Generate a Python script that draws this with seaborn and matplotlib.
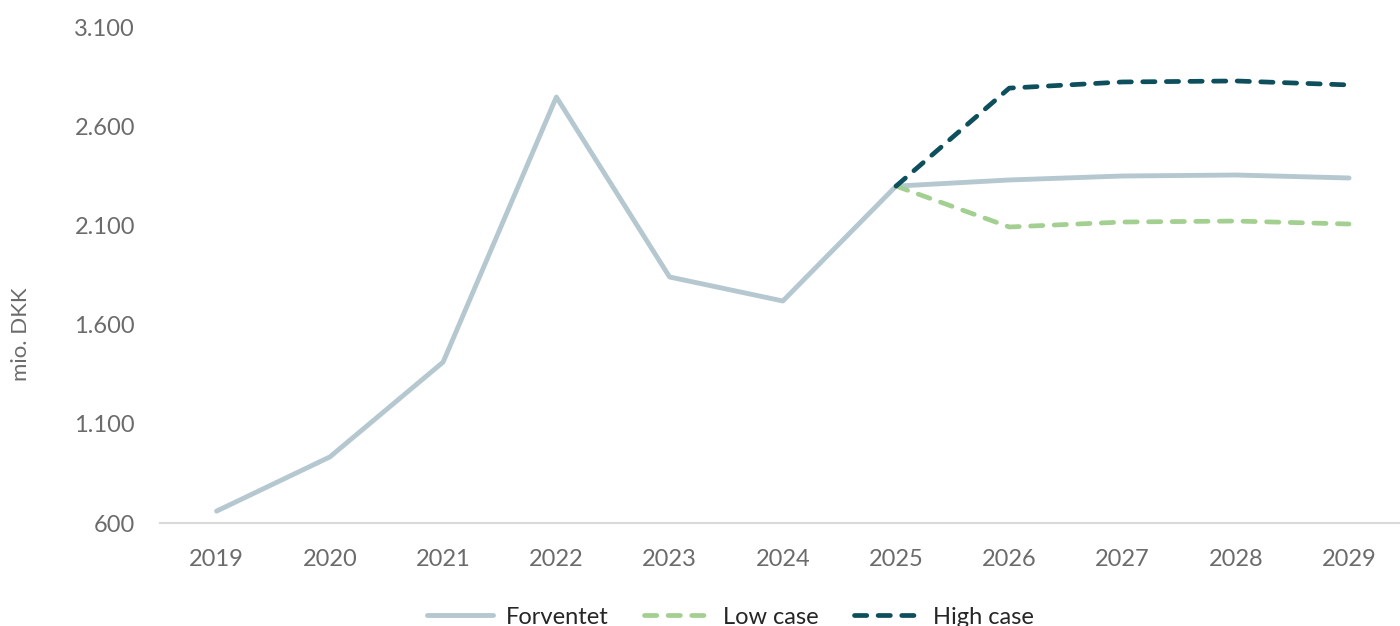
import pandas as pd
import seaborn as sns
import matplotlib.pyplot as plt

# Values (mio. DKK)
years = ["2019", "2020", "2021", "2022", "2023", "2024", "2025", "2026", "2027", "2028", "2029"]
forventet = [660, 933, 1411, 2747, 1840, 1719, 2298, 2329, 2349, 2354, 2339]
low_years = ["2025", "2026", "2027", "2028", "2029"]
low_case = [2298, 2092, 2117, 2122, 2107]
high_case = [2298, 2792, 2823, 2828, 2808]
y_ticks = [600, 1100, 1600, 2100, 2600, 3100]

sns.set_theme(style="white")
plt.rcParams['font.family'] = ['Lato', 'DejaVu Sans']

df_base = pd.DataFrame({"year": years, "value": forventet})
df_low = pd.DataFrame({"year": low_years, "value": low_case})
df_high = pd.DataFrame({"year": low_years, "value": high_case})

fig = plt.figure(figsize=(14, 6.26), dpi=100)
ax = fig.add_axes([160 / 1400, 1 - 523 / 626, 1240 / 1400, 496 / 626])

# make sure the category order covers all years
ax.plot(years, [None] * len(years), alpha=0)

sns.lineplot(data=df_base, x="year", y="value", ax=ax, color="#b5c8d0",
             linewidth=3.5, label="Forventet", solid_capstyle="round")
sns.lineplot(data=df_low, x="year", y="value", ax=ax, color="#a3cf91",
             linewidth=3.4, label="Low case", dashes=(2.6, 2.4),
             dash_capstyle="round")
sns.lineplot(data=df_high, x="year", y="value", ax=ax, color="#0d4f5c",
             linewidth=3.4, label="High case", dashes=(2.6, 2.4),
             dash_capstyle="round")

ax.set_xlim(-0.5, 10.45)
ax.set_ylim(600, 3100)
ax.set_yticks(y_ticks)
ax.set_yticklabels([f"{v:,}".replace(",", ".") for v in y_ticks])
ax.tick_params(axis="both", length=0, labelsize=17, colors="#6b6b6b")
ax.tick_params(axis="x", pad=19)
ax.tick_params(axis="y", pad=18)
ax.set_xlabel("")
ax.set_ylabel("mio. DKK", fontsize=16, color="#6b6b6b")
ax.yaxis.set_label_coords(-0.104, 0.38)

for side in ["top", "right", "left"]:
    ax.spines[side].set_visible(False)
ax.spines["bottom"].set_color("#d9d9d9")
ax.spines["bottom"].set_linewidth(1.5)

ax.legend(loc="upper center", bbox_to_anchor=(0.46, -0.126), ncol=3,
          frameon=False, fontsize=17, handlelength=2.8, handletextpad=0.55,
          columnspacing=1.5, labelcolor="#262626")

fig.savefig("out.png", dpi=100)
